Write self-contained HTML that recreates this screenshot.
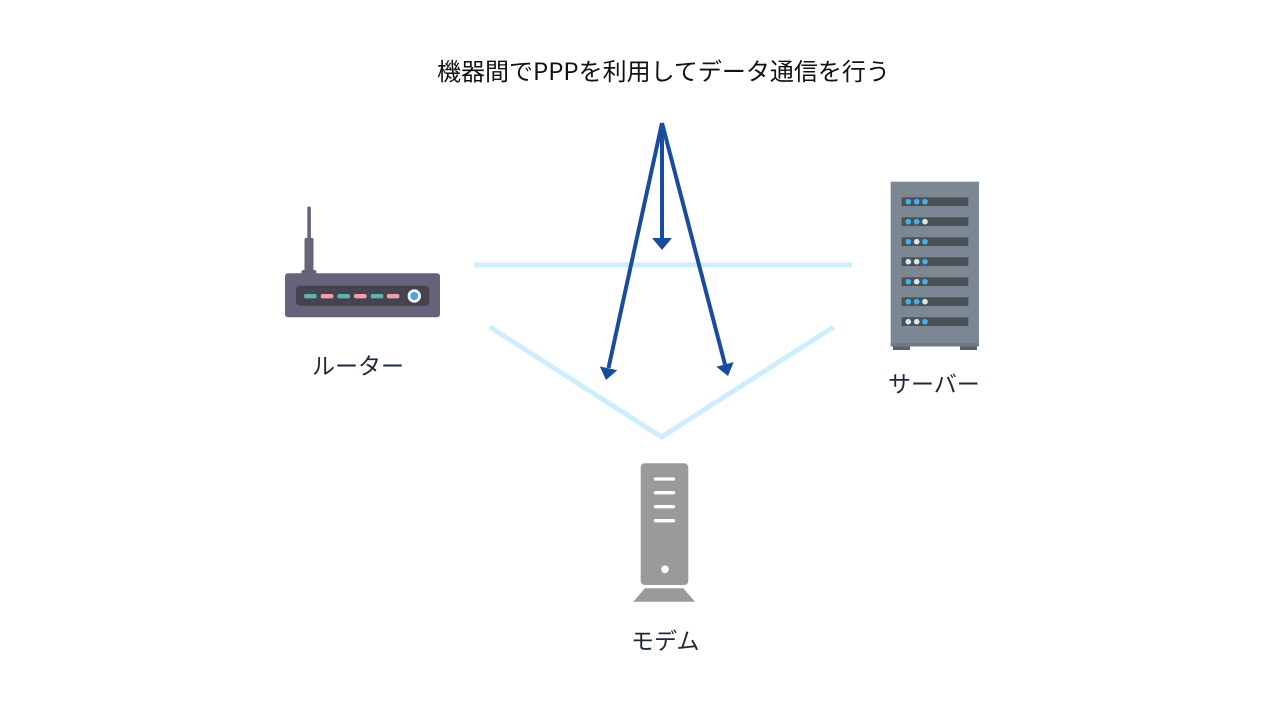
<!DOCTYPE html>
<html><head><meta charset="utf-8"><style>
html,body{margin:0;padding:0;background:#fff;}
body{width:1280px;height:720px;overflow:hidden;position:relative;font-family:"Liberation Sans","Noto Sans CJK JP",sans-serif;}
.t{position:absolute;white-space:nowrap;font-family:"Noto Sans CJK JP","Liberation Sans",sans-serif;}
</style></head><body>
<svg width="1280" height="720" viewBox="0 0 1280 720" style="position:absolute;left:0;top:0">
  <!-- light blue lines -->
  <line x1="474" y1="265" x2="852" y2="265" stroke="#cdeefa" stroke-width="5"/>
  <polyline points="490,327 661.5,437 833.5,327" fill="none" stroke="#cdeefa" stroke-width="5"/>
  <!-- blue arrows -->
  <g stroke="#1a4c9e" stroke-width="4" fill="none">
    <line x1="662" y1="123" x2="662" y2="240"/>
    <line x1="662" y1="123" x2="608.5" y2="368"/>
    <line x1="662" y1="123" x2="725" y2="364.5"/>
  </g>
  <g fill="#1a4c9e">
    <polygon points="662,250 652,238 672,238"/>
    <polygon points="606,380 617.3,370.2 599.8,366.4"/>
    <polygon points="728,376 733.7,362.1 716.3,366.7"/>
  </g>
  <!-- router -->
  <rect x="307.3" y="206.5" width="3.6" height="34" rx="1.5" fill="#66647a"/>
  <rect x="304.5" y="238" width="9" height="35" rx="1.5" fill="#66647a"/>
  <rect x="301.5" y="270" width="15" height="6" rx="2" fill="#66647a"/>
  <rect x="285" y="273.3" width="155" height="44" rx="3" fill="#66647a"/>
  <rect x="296" y="285.7" width="133.5" height="20" rx="4" fill="#45434f"/>
  <g>
    <rect x="304" y="294" width="12.7" height="4.4" rx="2" fill="#5fb3a8"/>
    <rect x="320.7" y="294" width="12.7" height="4.4" rx="2" fill="#f0a0aa"/>
    <rect x="337.3" y="294" width="12.7" height="4.4" rx="2" fill="#5fb3a8"/>
    <rect x="354" y="294" width="12.7" height="4.4" rx="2" fill="#f0a0aa"/>
    <rect x="370.7" y="294" width="12.7" height="4.4" rx="2" fill="#5fb3a8"/>
    <rect x="386.7" y="294" width="12.7" height="4.4" rx="2" fill="#f0a0aa"/>
  </g>
  <circle cx="414.3" cy="296" r="6.7" fill="#f4f6f8"/>
  <circle cx="414.3" cy="296" r="4" fill="#4aa8e0"/>
  <!-- server -->
  <rect x="893" y="344" width="17" height="6" fill="#5a636b"/>
  <rect x="960" y="344" width="17" height="6" fill="#5a636b"/>
  <rect x="890.7" y="181.7" width="88.3" height="164.5" fill="#7b8792"/>
  <rect x="890.7" y="343" width="88.3" height="3.5" fill="#6e7a84"/>
  <g fill="#4a5258">
    <rect x="901.7" y="197.3" width="66.6" height="8.7"/>
    <rect x="901.7" y="217.3" width="66.6" height="8.7"/>
    <rect x="901.7" y="237.3" width="66.6" height="8.7"/>
    <rect x="901.7" y="257.3" width="66.6" height="8.7"/>
    <rect x="901.7" y="277.3" width="66.6" height="8.7"/>
    <rect x="901.7" y="297.3" width="66.6" height="8.7"/>
    <rect x="901.7" y="317.3" width="66.6" height="8.7"/>
  </g>
  <g>
    <circle cx="908.3" cy="201.7" r="2.8" fill="#4ab0e8"/><circle cx="916.7" cy="201.7" r="2.8" fill="#4ab0e8"/><circle cx="925" cy="201.7" r="2.8" fill="#4ab0e8"/>
    <circle cx="908.3" cy="221.7" r="2.8" fill="#4ab0e8"/><circle cx="916.7" cy="221.7" r="2.8" fill="#4ab0e8"/><circle cx="925" cy="221.7" r="2.8" fill="#d4e8f0"/>
    <circle cx="908.3" cy="241.7" r="2.8" fill="#4ab0e8"/><circle cx="916.7" cy="241.7" r="2.8" fill="#d4e8f0"/><circle cx="925" cy="241.7" r="2.8" fill="#4ab0e8"/>
    <circle cx="908.3" cy="261.7" r="2.8" fill="#d4e8f0"/><circle cx="916.7" cy="261.7" r="2.8" fill="#d4e8f0"/><circle cx="925" cy="261.7" r="2.8" fill="#4ab0e8"/>
    <circle cx="908.3" cy="281.7" r="2.8" fill="#4ab0e8"/><circle cx="916.7" cy="281.7" r="2.8" fill="#d4e8f0"/><circle cx="925" cy="281.7" r="2.8" fill="#4ab0e8"/>
    <circle cx="908.3" cy="301.7" r="2.8" fill="#4ab0e8"/><circle cx="916.7" cy="301.7" r="2.8" fill="#4ab0e8"/><circle cx="925" cy="301.7" r="2.8" fill="#d4e8f0"/>
    <circle cx="908.3" cy="321.7" r="2.8" fill="#d4e8f0"/><circle cx="916.7" cy="321.7" r="2.8" fill="#d4e8f0"/><circle cx="925" cy="321.7" r="2.8" fill="#4ab0e8"/>
  </g>
  <!-- modem -->
  <rect x="640.7" y="463.3" width="47.6" height="121.7" rx="4" fill="#9a9a9a"/>
  <g stroke="#ffffff" stroke-width="3.3" stroke-linecap="round">
    <line x1="655.5" y1="479" x2="673.5" y2="479"/>
    <line x1="655.5" y1="492.7" x2="673.5" y2="492.7"/>
    <line x1="655.5" y1="506.7" x2="673.5" y2="506.7"/>
    <line x1="655.5" y1="520.7" x2="673.5" y2="520.7"/>
  </g>
  <circle cx="665" cy="569.3" r="3.8" fill="#ffffff"/>
  <polygon points="645,588.3 683.3,588.3 695,601.7 633.3,601.7" fill="#9a9a9a"/>
</svg>
<div class="t" style="left:437px;top:53px;font-size:24px;line-height:34px;color:#111;">機器間でPPPを利用してデータ通信を行う</div>
<div class="t" style="left:312px;top:348px;font-size:23px;line-height:33px;color:#1e2a3a;">ルーター</div>
<div class="t" style="left:888px;top:366px;font-size:23px;line-height:33px;color:#1e2a3a;">サーバー</div>
<div class="t" style="left:631px;top:623px;font-size:23px;line-height:33px;color:#1e2a3a;">モデム</div>
</body></html>
